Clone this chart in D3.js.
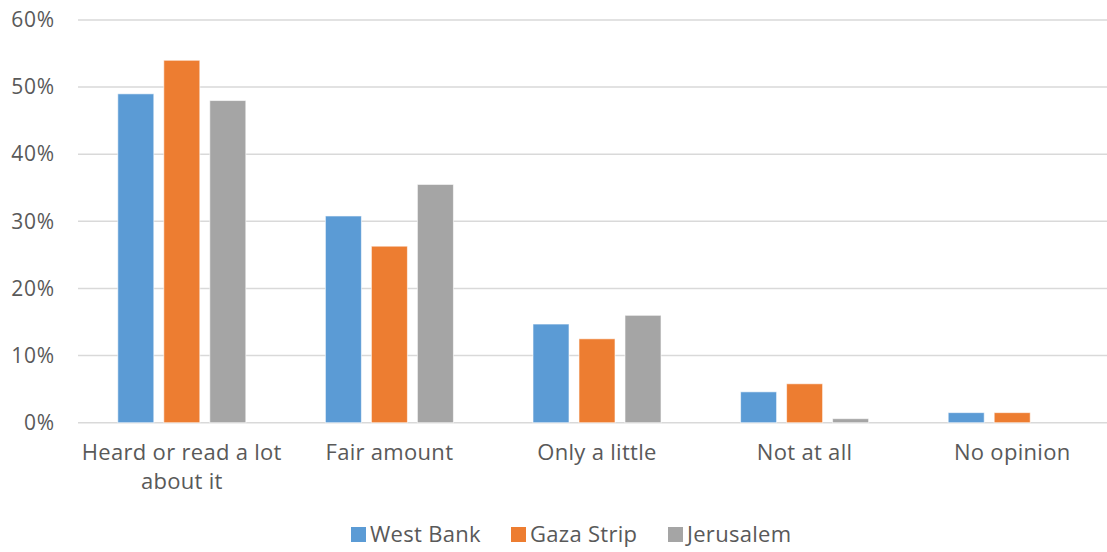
<!DOCTYPE html>
<html>
<head>
<meta charset="utf-8">
<script src="https://cdn.jsdelivr.net/npm/d3@7"></script>
<style>
  html, body { margin: 0; padding: 0; background: #fff; }
  svg { display: block; font-family: "Open Sans", Lato, sans-serif; }
</style>
</head>
<body>
<svg id="chart" width="1107" height="552"></svg>
<script>
// Awareness levels by region
const categories = [
  ["Heard or read a lot", "about it"],
  ["Fair amount"],
  ["Only a little"],
  ["Not at all"],
  ["No opinion"]
];
const seriesNames = ["West Bank", "Gaza Strip", "Jerusalem"];
const westBank  = [49, 30.8, 14.7, 4.6, 1.5];
const gazaStrip = [54, 26.3, 12.5, 5.8, 1.5];
const jerusalem = [48, 35.5, 16.0, 0.6, 0];
const yTicks = [0, 10, 20, 30, 40, 50, 60];
const colors = ["#5B9BD5", "#ED7D31", "#A5A5A5"];

const seriesValues = [westBank, gazaStrip, jerusalem];
const catKeys = categories.map(c => c.join(" "));
const fontStack = "'Open Sans', Lato, sans-serif";
const textColor = "#595959";

const svg = d3.select("#chart");
const margin = { left: 78, top: 20 };
const plotW = 1038, plotH = 402.7;

const x0 = d3.scaleBand().domain(catKeys).range([margin.left, margin.left + plotW]).padding(0);
const x1 = d3.scaleBand().domain(seriesNames).range([0, x0.bandwidth()])
  .paddingInner(0.217).paddingOuter(0.865);
const y = d3.scaleLinear().domain([0, 60]).range([margin.top + plotH, margin.top]);

// Horizontal gridlines
svg.append("g")
  .selectAll("line")
  .data(yTicks)
  .join("line")
  .attr("x1", margin.left)
  .attr("x2", margin.left + plotW)
  .attr("y1", d => y(d))
  .attr("y2", d => y(d))
  .attr("stroke", "#D9D9D9")
  .attr("stroke-width", 1.5);

// Y axis labels
const yAxis = d3.axisLeft(y).tickValues(yTicks).tickFormat(d => d + "%").tickSize(0).tickPadding(23);
const gy = svg.append("g").attr("transform", `translate(${margin.left},0)`).call(yAxis);
gy.select(".domain").remove();
gy.selectAll("text")
  .attr("fill", textColor)
  .style("font-size", "21px")
  .style("letter-spacing", "0.8px")
  .style("font-family", fontStack);

// Bars
const groups = svg.append("g")
  .selectAll("g")
  .data(catKeys)
  .join("g")
  .attr("transform", d => `translate(${x0(d)},0)`);

groups.selectAll("rect")
  .data((d, i) => seriesNames.map((s, j) => ({ s, v: seriesValues[j][i], c: colors[j] })))
  .join("rect")
  .attr("x", d => x1(d.s))
  .attr("width", x1.bandwidth())
  .attr("y", d => y(d.v))
  .attr("height", d => y(0) - y(d.v))
  .attr("fill", d => d.c)
  .attr("stroke", "#fff")
  .attr("stroke-opacity", 0.6)
  .attr("stroke-width", d => d.v > 0 ? 1 : 0);

// Category labels
const xAxis = d3.axisBottom(x0).tickSize(0).tickFormat(() => "");
const gx = svg.append("g").attr("transform", `translate(0,${y(0)})`).call(xAxis);
gx.select(".domain").remove();
gx.selectAll(".tick text").remove();
gx.selectAll(".tick").each(function(d, i) {
  const t = d3.select(this).append("text")
    .attr("text-anchor", "middle")
    .attr("fill", textColor)
    .style("font-size", "22px")
    .style("letter-spacing", "0.3px")
    .style("font-family", fontStack);
  categories[i].forEach((line, k) => {
    t.append("tspan").attr("x", 0).attr("y", 37 + k * 29).text(line);
  });
});

// Legend
const legendItems = [
  { name: seriesNames[0], x: 351 },
  { name: seriesNames[1], x: 511 },
  { name: seriesNames[2], x: 668 }
];
const lg = svg.append("g");
legendItems.forEach((it, i) => {
  lg.append("rect").attr("x", it.x).attr("y", 527).attr("width", 15).attr("height", 15).attr("fill", colors[i]);
  lg.append("text").attr("x", it.x + 19).attr("y", 542)
    .attr("fill", textColor).style("font-size", "22px").style("letter-spacing", "0.3px")
    .style("font-family", fontStack).text(it.name);
});
</script>
</body>
</html>
